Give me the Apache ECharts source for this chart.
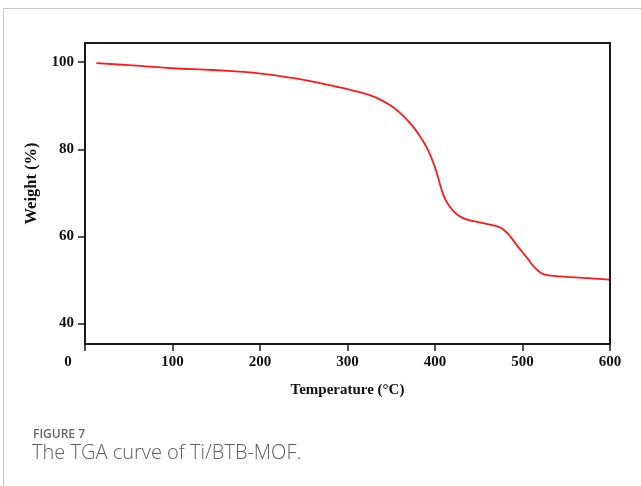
<!DOCTYPE html>
<html>
<head>
<meta charset="utf-8">
<script src="https://cdn.jsdelivr.net/npm/echarts@6/dist/echarts.min.js"></script>
<style>
  html, body { margin: 0; padding: 0; background: #fff; }
  #wrap { position: relative; width: 641px; height: 486px; overflow: hidden; }
  #frame { position: absolute; left: 3px; top: 8px; width: 700px; height: 600px;
           border-top: 1px solid #c9c9c9; border-left: 1px solid #c9c9c9; }
  #chart { position: absolute; left: 0; top: 0; width: 641px; height: 486px; }
  .cap1 { position: absolute; left: 33px; top: 425px; font-family: "Open Sans", sans-serif;
          font-size: 12px; color: #666; font-weight: 600; }
  .cap2 { position: absolute; left: 32px; top: 438px; font-family: "Open Sans", sans-serif;
          font-size: 20px; color: #5f5f5f; font-weight: 300; }
</style>
</head>
<body>
<div id="wrap">
  <div id="frame"></div>
  <div id="chart"></div>
  <div class="cap1">FIGURE 7</div>
  <div class="cap2">The TGA curve of Ti/BTB-MOF.</div>
</div>
<script>
// TGA measurement: temperature (°C) and remaining weight (%)
const temperature = [13, 50, 100, 146, 192, 242, 289, 314, 332, 348, 358, 367, 375, 382, 386,
                     390, 395, 400, 404, 408, 412, 417, 421, 426, 431, 436, 440, 459, 463,
                     470, 474, 478, 483, 489, 495, 501, 506, 511, 517, 523, 530, 539, 550,
                     569, 599];
const weight = [99.8, 99.3, 98.6, 98.2, 97.6, 96.2, 94.3, 93.1, 91.9, 90.2, 88.7, 87.0, 85.2, 83.2, 82.0,
                80.6, 78.5, 75.8, 73.2, 70.4, 68.4, 66.8, 65.8, 64.9, 64.3, 63.9, 63.7, 62.9, 62.7,
                62.35, 62.1, 61.6, 60.7, 59.2, 57.6, 56.1, 54.9, 53.5, 52.3, 51.4, 51.05, 50.9, 50.7,
                50.5, 50.1];

const xTicks = [0, 100, 200, 300, 400, 500, 600];
const yTicks = [40, 60, 80, 100];

const points = temperature.map((t, i) => [t, weight[i]]);

const serif = '"Liberation Serif", "Times New Roman", serif';
const axisColor = '#1a1a1a';

const chart = echarts.init(document.getElementById('chart'), null, { renderer: 'canvas' });
chart.setOption({
  animation: false,
  grid: {
    left: 85, right: 31, top: 43, bottom: 142,
    show: true, borderColor: axisColor, borderWidth: 2, backgroundColor: 'transparent'
  },
  xAxis: {
    type: 'value',
    min: xTicks[0], max: xTicks[xTicks.length - 1], interval: 100,
    name: 'Temperature (°C)',
    nameLocation: 'middle',
    nameGap: 39,
    nameTextStyle: { fontFamily: serif, fontWeight: 'bold', fontSize: 15, color: '#111' },
    axisLine: { show: true, onZero: false, lineStyle: { color: axisColor, width: 2 } },
    axisTick: { show: true, inside: false, length: 7, lineStyle: { color: axisColor, width: 1.5 } },
    axisLabel: {
      margin: 11, fontFamily: serif, fontWeight: 'bold', fontSize: 15, color: '#111',
      formatter: v => v === 0 ? '{z|0}' : String(v),
      rich: { z: { fontFamily: serif, fontWeight: 'bold', fontSize: 15, color: '#111', padding: [0, 34, 0, 0] } }
    },
    splitLine: { show: false }
  },
  yAxis: {
    type: 'value',
    min: 35.3, max: 104.4,
    name: 'Weight (%)',
    nameLocation: 'middle',
    nameGap: 44,
    nameTextStyle: { fontFamily: serif, fontWeight: 'bold', fontSize: 16.5, color: '#111', padding: [0, 0, 0, 20] },
    axisLine: { show: true, onZero: false, lineStyle: { color: axisColor, width: 2 } },
    axisTick: { show: true, inside: false, length: 7, customValues: yTicks,
                lineStyle: { color: axisColor, width: 1.5 } },
    axisLabel: {
      margin: 11, fontFamily: serif, fontWeight: 'bold', fontSize: 15, color: '#111',
      customValues: yTicks
    },
    splitLine: { show: false }
  },
  series: [{
    type: 'line',
    data: points,
    smooth: 0.4,
    showSymbol: false,
    lineStyle: { color: '#ff1a1a', width: 1.8 },
    silent: true
  }]
});
</script>
</body>
</html>
